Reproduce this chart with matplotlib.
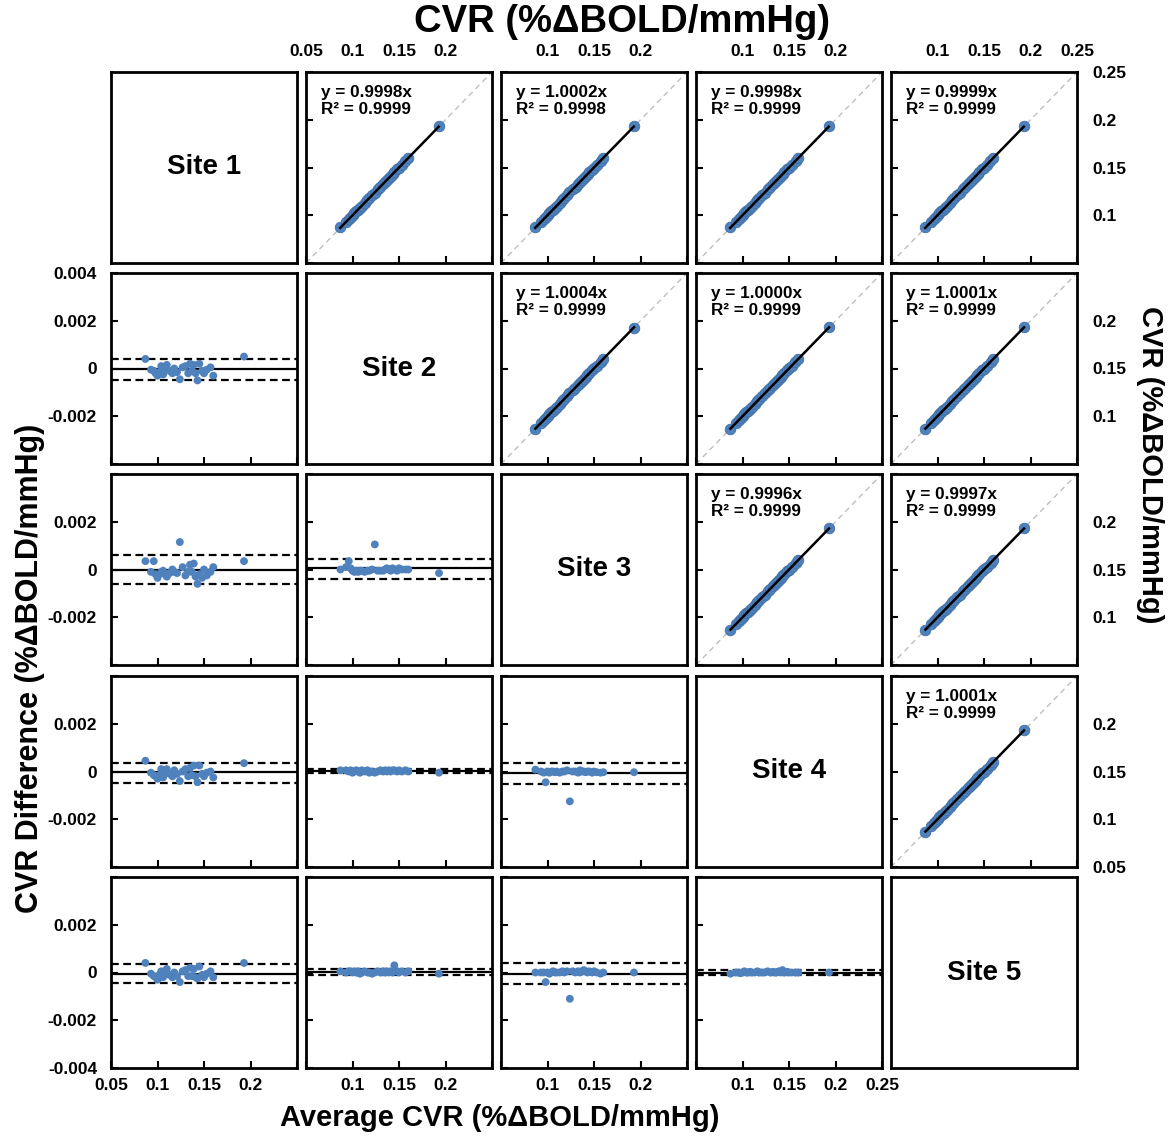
import matplotlib
matplotlib.use("Agg")
import matplotlib.pyplot as plt
import numpy as np

plt.rcParams['font.family'] = ['Liberation Sans', 'DejaVu Sans']
plt.rcParams['font.weight'] = 'bold'

# ---------------- data ----------------
sites = ["Site 1", "Site 2", "Site 3", "Site 4", "Site 5"]

# average CVR per subject (%dBOLD/mmHg)
avg_cvr = [0.087, 0.093, 0.096, 0.098, 0.100, 0.102, 0.104, 0.106, 0.108, 0.110,
           0.113, 0.116, 0.118, 0.121, 0.124, 0.127, 0.130, 0.133, 0.135, 0.137,
           0.139, 0.141, 0.143, 0.145, 0.148, 0.150, 0.153, 0.157, 0.160, 0.193]

# differences (x 1e-3 %dBOLD/mmHg) per site pair
diff_12 = [0.40, -0.05, -0.10, -0.20, -0.30, -0.15, 0.10, -0.25, -0.05, 0.15,
           -0.10, -0.20, 0.00, -0.15, -0.45, 0.05, 0.10, -0.20, 0.20, -0.10,
           0.15, -0.20, -0.50, 0.20, -0.10, -0.20, -0.05, 0.05, -0.30, 0.50]
diff_13 = [0.35, -0.10, 0.35, -0.20, -0.35, -0.20, -0.10, -0.05, -0.20, -0.30,
           -0.15, 0.00, -0.10, -0.15, 1.15, 0.10, -0.25, -0.10, 0.20, -0.10,
           0.25, -0.30, -0.60, -0.20, -0.35, 0.00, -0.25, -0.10, 0.10, 0.35]
diff_23 = [0.00, 0.10, 0.35, 0.05, -0.05, -0.10, -0.05, -0.10, -0.05, -0.05,
           -0.10, -0.05, -0.05, 0.00, 1.05, -0.05, -0.05, -0.05, 0.00, 0.05,
           0.00, -0.05, 0.05, 0.00, -0.05, 0.05, 0.00, 0.00, 0.00, -0.15]
diff_14 = [0.45, -0.05, -0.15, -0.20, -0.30, -0.15, 0.10, -0.25, -0.05, 0.10,
           -0.10, -0.20, 0.05, -0.10, -0.40, 0.00, 0.10, -0.20, 0.15, -0.15,
           0.25, -0.20, -0.45, 0.25, -0.10, -0.20, -0.05, 0.00, -0.25, 0.35]
diff_24 = [0.05, 0.05, 0.00, 0.05, -0.05, 0.00, 0.05, 0.00, -0.05, 0.05,
           0.00, 0.05, -0.05, 0.00, -0.05, 0.00, 0.05, 0.00, 0.05, 0.00,
           0.05, 0.00, 0.05, 0.05, 0.00, 0.05, 0.00, 0.05, 0.00, -0.05]
diff_34 = [0.08, 0.00, -0.05, -0.45, 0.00, -0.05, 0.00, 0.00, -0.03, 0.00,
           -0.05, 0.00, 0.00, 0.05, -1.25, 0.00, 0.00, -0.05, 0.05, 0.00,
           0.00, -0.03, 0.00, 0.00, -0.05, 0.00, -0.03, -0.05, -0.03, -0.03]
diff_15 = [0.40, -0.05, -0.15, -0.20, -0.30, -0.10, 0.05, -0.20, -0.05, 0.15,
           -0.10, -0.20, 0.00, -0.15, -0.40, 0.05, 0.10, -0.15, 0.20, -0.15,
           0.15, -0.20, -0.25, 0.25, -0.10, -0.20, -0.05, 0.05, -0.20, 0.40]
diff_25 = [0.05, 0.00, 0.05, 0.05, 0.00, 0.05, 0.00, 0.05, -0.05, 0.00,
           0.05, 0.00, 0.00, -0.05, 0.00, 0.05, 0.00, 0.05, 0.00, 0.05,
           0.00, 0.05, 0.00, 0.30, 0.05, 0.00, 0.05, 0.00, 0.05, -0.05]
diff_35 = [0.00, 0.00, 0.00, -0.40, 0.00, -0.05, 0.00, 0.05, 0.00, 0.00,
           0.00, 0.05, 0.00, 0.05, -1.10, 0.05, 0.00, 0.05, 0.00, 0.05,
           0.10, 0.05, 0.00, 0.05, 0.00, 0.05, 0.00, -0.05, 0.00, 0.00]
diff_45 = [-0.05, 0.00, 0.00, -0.03, 0.00, 0.05, 0.00, 0.00, 0.03, 0.00,
           0.00, 0.05, 0.00, 0.00, 0.00, 0.05, 0.00, 0.03, 0.00, 0.00,
           0.05, 0.00, 0.10, 0.00, 0.03, 0.00, 0.00, 0.00, 0.00, 0.00]

pairs = [(1, 2), (1, 3), (2, 3), (1, 4), (2, 4), (3, 4), (1, 5), (2, 5), (3, 5), (4, 5)]
diffs = [diff_12, diff_13, diff_23, diff_14, diff_24, diff_34, diff_15, diff_25, diff_35, diff_45]
# Bland-Altman mean bias and limits of agreement (x 1e-3)
ba_mean = [-0.03, 0.00, 0.05, -0.04, 0.02, -0.08, -0.05, 0.02, -0.08, 0.00]
ba_low = [-0.47, -0.62, -0.38, -0.48, -0.08, -0.54, -0.45, -0.10, -0.50, -0.10]
ba_high = [0.38, 0.60, 0.45, 0.35, 0.12, 0.37, 0.35, 0.14, 0.38, 0.12]
# regression slope and R^2
slopes = ["0.9998", "1.0002", "1.0004", "0.9998", "1.0000", "0.9996", "0.9999", "1.0001", "0.9997", "1.0001"]
r2s = ["0.9999", "0.9998", "0.9999", "0.9999", "0.9999", "0.9999", "0.9999", "0.9999", "0.9999", "0.9999"]

cvr_ticks = [0.05, 0.1, 0.15, 0.2, 0.25]
cvr_labels = ["0.05", "0.1", "0.15", "0.2", "0.25"]
diff_ticks = [-0.004, -0.002, 0, 0.002, 0.004]
diff_labels = ["-0.004", "-0.002", "0", "0.002", "0.004"]

# ---------------- layout ----------------
W, H = 1171, 1136
fig = plt.figure(figsize=(W / 100, H / 100), dpi=100)
col_left = [111, 306, 501, 696, 891]
row_top = [72, 273, 474, 676, 877]
pw, ph = 186, 191
blue = '#4F81BD'
edge_blue = '#3F6FA8'
tick_fs = 12.5

def make_ax(r, c):
    return fig.add_axes([col_left[c] / W, 1 - (row_top[r] + ph) / H, pw / W, ph / H])

def style(ax):
    for s in ax.spines.values():
        s.set_linewidth(2.0)
        s.set_color('black')
    ax.tick_params(direction='in', length=5, width=1.5, labelsize=tick_fs,
                   top=False, right=False, labelleft=False, labelbottom=False,
                   labeltop=False, labelright=False)

pair_index = {p: i for i, p in enumerate(pairs)}

for r in range(5):
    for c in range(5):
        ax = make_ax(r, c)
        style(ax)
        if r == c:
            ax.set_xticks([])
            ax.set_yticks([])
            ax.text(0.5, 0.5, sites[r], transform=ax.transAxes, ha='center', va='center',
                    fontsize=20, fontweight='bold')
            continue
        if c > r:
            # upper: correlation scatter
            k = pair_index[(r + 1, c + 1)]
            a = np.array(avg_cvr)
            d = np.array(diffs[k]) * 1e-3
            x = a - d / 2
            y = a + d / 2
            ax.plot([0.05, 0.25], [0.05, 0.25], ls=(0, (4, 3)), color='#BFBFBF', lw=1.0, zorder=1)
            ax.scatter(x, y, s=58, color=blue, edgecolors=edge_blue, linewidths=0.6, zorder=2)
            slope = float(slopes[k])
            xl = np.array([x.min(), x.max()])
            ax.plot(xl, slope * xl, color='black', lw=1.8, zorder=3)
            ax.text(0.08, 0.93, f"y = {slopes[k]}x\nR\u00b2 = {r2s[k]}", transform=ax.transAxes,
                    ha='left', va='top', fontsize=12.3, fontweight='bold', linespacing=1.1)
            ax.set_xlim(0.05, 0.25)
            ax.set_ylim(0.05, 0.25)
            ax.set_xticks(cvr_ticks)
            ax.set_yticks(cvr_ticks)
            if r == 0:
                lab = list(cvr_labels)
                if c != 1:
                    lab[0] = ""
                if c != 4:
                    lab[4] = ""
                ax.set_xticklabels(lab)
                ax.tick_params(axis='x', labeltop=True, pad=9)
            if c == 4:
                lab = list(cvr_labels)
                if r != 0:
                    lab[4] = ""
                if r != 3:
                    lab[0] = ""
                ax.set_yticklabels(lab)
                ax.tick_params(axis='y', labelright=True, pad=11)
        else:
            # lower: Bland-Altman
            k = pair_index[(c + 1, r + 1)]
            a = np.array(avg_cvr)
            d = np.array(diffs[k]) * 1e-3
            ax.axhline(ba_mean[k] * 1e-3, color='black', lw=1.6, zorder=1)
            ax.axhline(ba_low[k] * 1e-3, color='black', lw=1.6, ls=(0, (3.5, 2)), zorder=1)
            ax.axhline(ba_high[k] * 1e-3, color='black', lw=1.6, ls=(0, (3.5, 2)), zorder=1)
            ax.scatter(a, d, s=32, color=blue, edgecolors='none', zorder=2)
            ax.set_xlim(0.05, 0.25)
            ax.set_ylim(-0.004, 0.004)
            ax.set_xticks(cvr_ticks)
            ax.set_yticks(diff_ticks)
            if c == 0:
                lab = list(diff_labels)
                if r != 1:
                    lab[4] = ""
                if r != 4:
                    lab[0] = ""
                ax.set_yticklabels(lab)
                ax.tick_params(axis='y', labelleft=True, pad=10)
            if r == 4:
                lab = list(cvr_labels)
                if c != 0:
                    lab[0] = ""
                if c != 3:
                    lab[4] = ""
                ax.set_xticklabels(lab)
                ax.tick_params(axis='x', labelbottom=True, pad=7)

fig.text(622 / W, 1 - 22 / H, "CVR (%ΔBOLD/mmHg)", ha='center', va='center',
         fontsize=27.5, fontweight='bold')
fig.text(500 / W, 1 - 1118 / H, "Average CVR (%ΔBOLD/mmHg)", ha='center', va='center',
         fontsize=21, fontweight='bold')
fig.text(30 / W, 1 - 668 / H, "CVR Difference (%ΔBOLD/mmHg)", ha='center', va='center',
         rotation=90, fontsize=22, fontweight='bold')
fig.text(1150 / W, 1 - 465 / H, "CVR (%ΔBOLD/mmHg)", ha='center', va='center',
         rotation=270, fontsize=21, fontweight='bold')

fig.savefig("out.png", dpi=100, facecolor='white')
